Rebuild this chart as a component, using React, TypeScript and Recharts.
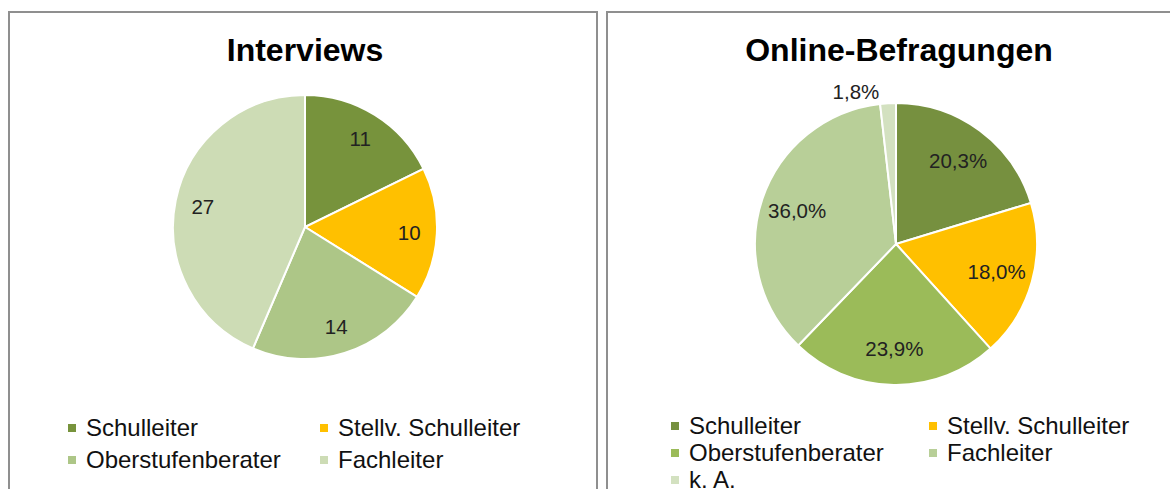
import React from "react";
import { PieChart, Pie, Cell, Legend } from "recharts";

const interviewCategories = ["Schulleiter", "Stellv. Schulleiter", "Oberstufenberater", "Fachleiter"];
const interviewValues = [11, 10, 14, 27];
const interviewColors = ["#77933C", "#FFC000", "#ADC687", "#CDDCB5"];

const onlineCategories = ["Schulleiter", "Stellv. Schulleiter", "Oberstufenberater", "Fachleiter", "k. A."];
const onlineValues = [20.3, 18.0, 23.9, 36.0, 1.8];
const onlineColors = ["#76903F", "#FFC000", "#9BBB59", "#B8CF98", "#D3E1C0"];

const interviewData = interviewCategories.map((name, i) => ({ name, value: interviewValues[i] }));
const onlineData = onlineCategories.map((name, i) => ({ name, value: onlineValues[i] }));

const FONT = "'Liberation Sans', Arial, sans-serif";
const RAD = Math.PI / 180;

const fmtPct = (v: number) => v.toFixed(1).replace(".", ",") + "%";

const makeLabel = (factor: number, pct: boolean) => (props: any) => {
  const { cx, cy, midAngle, outerRadius, value } = props;
  const text = pct ? fmtPct(value) : String(value);
  if (pct && value < 5) {
    const r = outerRadius + 12;
    const x = cx + r * Math.cos(-midAngle * RAD);
    const y = cy + r * Math.sin(-midAngle * RAD);
    return (
      <text x={x - 8} y={y} textAnchor="end" dominantBaseline="central" fill="#222" fontSize={20.5} fontFamily={FONT}>
        {text}
      </text>
    );
  }
  const r = outerRadius * factor;
  const x = cx + r * Math.cos(-midAngle * RAD);
  const y = cy + r * Math.sin(-midAngle * RAD);
  return (
    <text x={x} y={y} textAnchor="middle" dominantBaseline="central" fill="#222" fontSize={20.5} fontFamily={FONT}>
      {text}
    </text>
  );
};

const legendContent = (names: string[], colors: string[], colX: number[], rowH: number) => () => (
  <div style={{ position: "relative", fontFamily: FONT, fontSize: 24, color: "#111" }}>
    {names.map((n, i) => {
      const col = i % 2;
      const row = Math.floor(i / 2);
      return (
        <div
          key={n}
          style={{
            position: "absolute",
            left: colX[col],
            top: row * rowH,
            height: 24,
            lineHeight: "24px",
            whiteSpace: "nowrap",
          }}
        >
          <span
            style={{
              display: "inline-block",
              width: 8,
              height: 8,
              background: colors[i],
              marginRight: 10,
              verticalAlign: "middle",
              position: "relative",
              top: -2,
            }}
          />
          {n}
        </div>
      );
    })}
  </div>
);

const panelBorder = "2px solid #8f8f8f";

const titleStyle: React.CSSProperties = {
  position: "absolute",
  top: 34,
  textAlign: "center",
  fontFamily: FONT,
  fontWeight: "bold",
  fontSize: 32,
  lineHeight: "32px",
  color: "#000",
  whiteSpace: "nowrap",
};

export default function App() {
  return (
    <div
      style={{
        position: "absolute",
        left: 0,
        top: 0,
        width: 1170,
        height: 489,
        overflow: "hidden",
        background: "#fff",
      }}
    >
      <div
        style={{
          position: "absolute",
          left: 8,
          top: 11,
          width: 586,
          height: 500,
          borderLeft: panelBorder,
          borderTop: panelBorder,
          borderRight: panelBorder,
        }}
      />
      <div
        style={{
          position: "absolute",
          left: 606,
          top: 11,
          width: 600,
          height: 500,
          borderLeft: panelBorder,
          borderTop: panelBorder,
        }}
      />
      <div style={{ ...titleStyle, left: 8, width: 594 }}>Interviews</div>
      <div style={{ ...titleStyle, left: 699, width: 400 }}>Online-Befragungen</div>

      <div style={{ position: "absolute", left: 8, top: 11 }}>
        <PieChart width={588} height={478}>
          <Pie
            data={interviewData}
            dataKey="value"
            nameKey="name"
            cx={292}
            cy={211}
            outerRadius={132}
            startAngle={90}
            endAngle={-270}
            stroke="#fff"
            strokeWidth={2}
            isAnimationActive={false}
            labelLine={false}
            label={makeLabel(0.79, false)}
          >
            {interviewData.map((d, i) => (
              <Cell key={d.name} fill={interviewColors[i]} />
            ))}
          </Pie>
          <Legend
            content={legendContent(interviewCategories, interviewColors, [60, 312], 32)}
            wrapperStyle={{ position: "absolute", left: 0, top: 405, width: 588, height: 70 }}
          />
        </PieChart>
      </div>

      <div style={{ position: "absolute", left: 606, top: 11 }}>
        <PieChart width={564} height={478}>
          <Pie
            data={onlineData}
            dataKey="value"
            nameKey="name"
            cx={285}
            cy={228}
            outerRadius={141}
            startAngle={90}
            endAngle={-270}
            stroke="#fff"
            strokeWidth={2}
            isAnimationActive={false}
            labelLine={false}
            label={makeLabel(0.74, true)}
          >
            {onlineData.map((d, i) => (
              <Cell key={d.name} fill={onlineColors[i]} />
            ))}
          </Pie>
          <Legend
            content={legendContent(onlineCategories, onlineColors, [65, 323], 27)}
            wrapperStyle={{ position: "absolute", left: 0, top: 403, width: 564, height: 90 }}
          />
        </PieChart>
      </div>
    </div>
  );
}
